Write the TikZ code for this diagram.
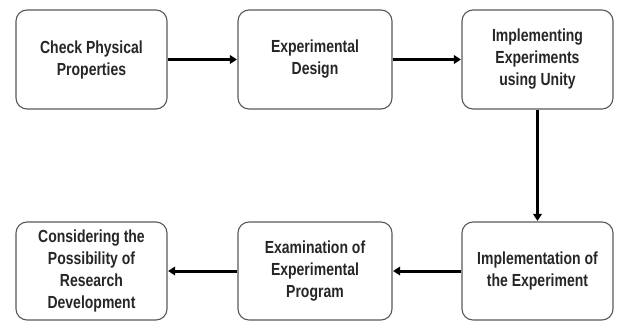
\documentclass[tikz,border=0pt]{standalone}
\usepackage{fontspec}
\setmainfont{Liberation Sans}[FakeStretch=0.8]
\usetikzlibrary{arrows.meta}
\begin{document}
\begin{tikzpicture}[x=1pt,y=-1pt,
  box/.style={draw=black!65,line width=1.1pt,rounded corners=11pt,minimum width=151pt,minimum height=99pt,inner sep=2pt,align=center,
    font=\fontsize{17.5}{22}\selectfont\bfseries,text=black!85},
  flow/.style={line width=3pt,-{Triangle[length=7pt,width=8.5pt]},shorten >=0.5pt}]
\useasboundingbox (0,0) rectangle (622,321);
\node[box] (a) at (91.5,59.5) {Check Physical\\Properties};
\node[box,minimum width=154pt] (b) at (315,59.5) {Experimental\\Design};
\node[box] (c) at (537.5,59.5) {Implementing\\Experiments\\using Unity};
\node[box,minimum height=98pt] (d) at (537.5,271) {Implementation of\\the Experiment};
\node[box,minimum width=154pt,minimum height=98pt] (e) at (315,271) {Examination of\\Experimental\\Program};
\node[box,minimum height=98pt] (f) at (91.5,271) {Considering the\\Possibility of\\Research\\Development};
\draw[flow] (a) -- (b);
\draw[flow] (b) -- (c);
\draw[flow] (c) -- (d);
\draw[flow] (d) -- (e);
\draw[flow] (e) -- (f);
\end{tikzpicture}
\end{document}
